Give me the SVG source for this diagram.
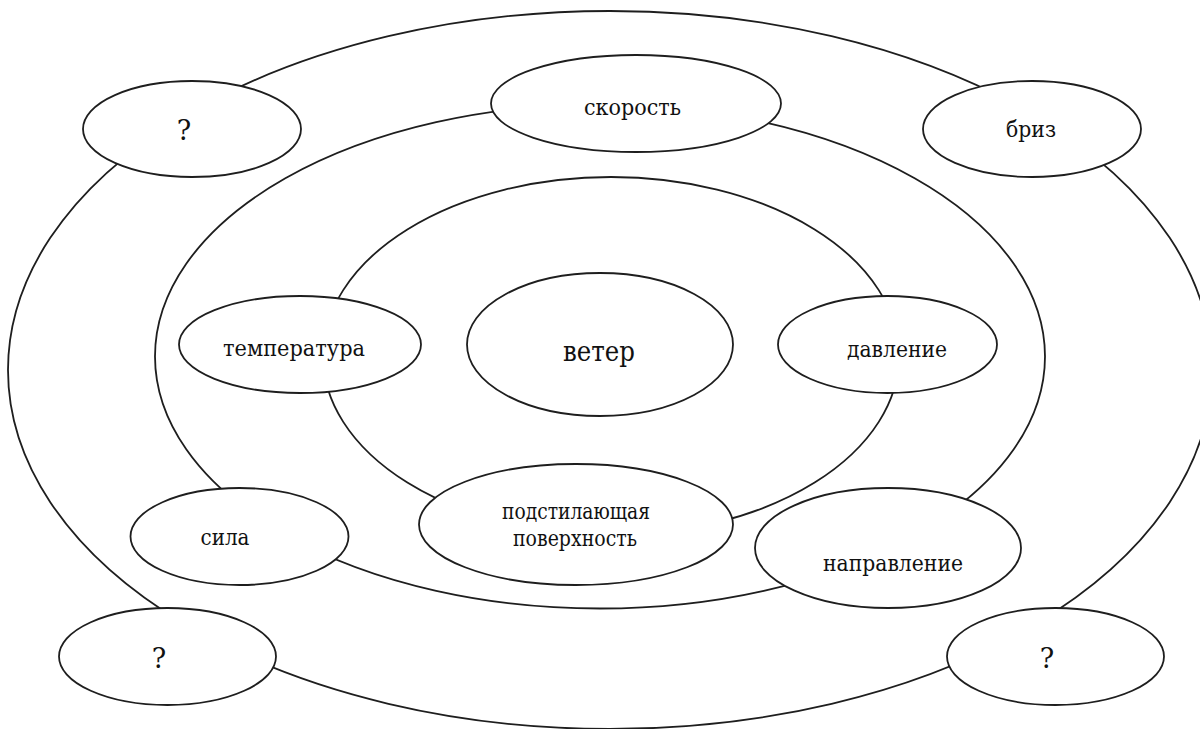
<svg xmlns="http://www.w3.org/2000/svg" width="1200" height="729" viewBox="0 0 1200 729">
<style>
.ring{fill:none;stroke:#1e1e1e;stroke-width:1.8}
.node{fill:#ffffff;stroke:#1e1e1e;stroke-width:1.8}
text{font-family:'DejaVu Serif','Liberation Serif',serif;font-size:23px;fill:#111;text-anchor:middle}
text.big{font-size:27px}
</style>
<rect width="1200" height="729" fill="#ffffff"/>
<g id="connectors">
<ellipse class="ring" cx="610" cy="370" rx="602" ry="359"/>
<ellipse class="ring" cx="600" cy="356.5" rx="445" ry="252"/>
<ellipse class="ring" cx="611" cy="356" rx="288" ry="179"/>
</g>
<g id="node-q-top-left">
<ellipse class="node" cx="192" cy="129" rx="109" ry="48"/>
<text class="big" x="184" y="140">?</text>
</g>
<g id="node-skorost">
<ellipse class="node" cx="636" cy="103.5" rx="145" ry="48.5"/>
<text x="632.5" y="115" textLength="97" lengthAdjust="spacingAndGlyphs">скорость</text>
</g>
<g id="node-briz">
<ellipse class="node" cx="1032" cy="129" rx="109" ry="48"/>
<text x="1031" y="137" textLength="50" lengthAdjust="spacingAndGlyphs">бриз</text>
</g>
<g id="node-temperatura">
<ellipse class="node" cx="300" cy="344.5" rx="121" ry="48.5"/>
<text x="294" y="356" textLength="142" lengthAdjust="spacingAndGlyphs">температура</text>
</g>
<g id="node-veter">
<ellipse class="node" cx="600" cy="344.5" rx="133" ry="71.5"/>
<text class="big" x="599" y="361" textLength="72" lengthAdjust="spacingAndGlyphs">ветер</text>
</g>
<g id="node-davlenie">
<ellipse class="node" cx="887.5" cy="344.5" rx="109.5" ry="48.5"/>
<text x="897" y="357" textLength="100" lengthAdjust="spacingAndGlyphs">давление</text>
</g>
<g id="node-podstilayushchaya">
<ellipse class="node" cx="576" cy="524.5" rx="157" ry="60.5"/>
<text x="576" y="519" textLength="148" lengthAdjust="spacingAndGlyphs">подстилающая</text>
<text x="575" y="546" textLength="124" lengthAdjust="spacingAndGlyphs">поверхность</text>
</g>
<g id="node-sila">
<ellipse class="node" cx="239.5" cy="536.5" rx="109" ry="48.5"/>
<text x="225" y="545" textLength="49" lengthAdjust="spacingAndGlyphs">сила</text>
</g>
<g id="node-napravlenie">
<ellipse class="node" cx="888" cy="548" rx="133" ry="60"/>
<text x="893" y="571" textLength="140" lengthAdjust="spacingAndGlyphs">направление</text>
</g>
<g id="node-q-bottom-left">
<ellipse class="node" cx="167.5" cy="656.5" rx="108.5" ry="48.5"/>
<text class="big" x="159" y="668">?</text>
</g>
<g id="node-q-bottom-right">
<ellipse class="node" cx="1055.5" cy="656.5" rx="108.5" ry="48.5"/>
<text class="big" x="1047" y="668">?</text>
</g>
</svg>
